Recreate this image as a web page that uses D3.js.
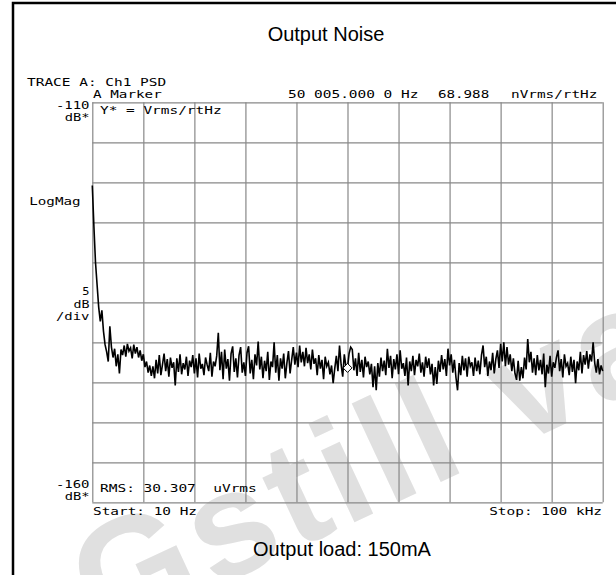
<!DOCTYPE html>
<html>
<head>
<meta charset="utf-8">
<script src="https://cdn.jsdelivr.net/npm/d3@7"></script>
<style>
body { margin: 0; background: #fff; }
svg { display: block; }
</style>
</head>
<body>
<div id="chart"></div>
<script>
// Sweep / display settings
var startHz = 10
var stopHz = 100000
var dbTop = -110
var dbBottom = -160
var dbPerDiv = 5
var xDivs = 10

var markerHz = 50005
var markerDb = -143.2

// Trace A, Ch1 PSD, in dB (Vrms/rtHz), evenly spaced bins from start to stop
var traceDb = [
  -120.4, -125.5, -130.0, -132.8, -135.6, -137.4, -136.0, -138.6, -140.3, -141.2,
  -142.4, -138.0, -140.6, -141.9, -140.8, -143.0, -141.5, -143.9, -140.9, -141.6,
  -140.4, -141.8, -140.2, -141.1, -140.7, -142.0, -140.3, -141.4, -140.6, -141.9,
  -141.0, -142.3, -141.5, -143.1, -142.4, -143.8, -142.9, -144.2, -143.0, -144.5,
  -142.2, -143.9, -141.6, -144.1, -142.8, -141.4, -143.6, -142.1, -144.3, -141.9,
  -143.2, -142.5, -145.4, -142.0, -143.7, -141.5, -144.0, -142.6, -143.4, -141.8,
  -144.2, -142.3, -143.1, -141.6, -143.9, -142.0, -144.4, -141.4, -143.3, -142.7,
  -144.1, -141.9, -142.8, -143.6, -141.3, -144.3, -142.4, -143.0, -141.7, -138.8,
  -143.5, -141.2, -144.6, -140.9, -143.3, -142.1, -144.8, -141.4, -140.5, -143.7,
  -142.0, -144.4, -141.6, -140.6, -143.8, -142.5, -144.2, -141.3, -140.5, -143.9,
  -142.2, -144.6, -141.5, -142.9, -139.9, -143.4, -141.8, -144.5, -142.3, -143.6,
  -141.2, -144.7, -142.4, -143.1, -140.0, -143.8, -141.6, -144.8, -142.0, -143.3,
  -141.4, -144.5, -142.6, -141.1, -143.9, -142.2, -140.6, -142.8, -141.3, -143.1,
  -140.4, -142.5, -141.2, -143.0, -140.7, -142.6, -141.5, -143.4, -140.9, -142.7,
  -142.0, -144.1, -141.6, -143.3, -142.2, -144.6, -141.8, -143.0, -142.5, -144.0,
  -142.9, -145.1, -143.3, -141.7, -143.6, -140.4, -142.8, -144.3, -141.5, -143.0,
  -143.2, -141.4, -140.6, -140.9, -143.5, -142.0, -144.2, -141.3, -143.7, -142.2,
  -144.4, -141.8, -143.1, -142.4, -144.0, -142.7, -145.6, -143.0, -146.0, -142.6,
  -144.3, -141.9, -143.6, -142.3, -144.1, -140.8, -143.2, -141.7, -144.5, -142.1,
  -143.4, -141.5, -144.0, -141.0, -143.3, -142.6, -144.2, -141.9, -145.4, -142.4,
  -143.6, -141.7, -144.1, -142.2, -143.0, -141.4, -143.8, -142.5, -144.3, -141.8,
  -143.2, -142.0, -144.0, -142.7, -145.4, -143.1, -145.2, -142.3, -143.7, -141.6,
  -143.4, -142.1, -144.2, -140.8, -142.9, -141.5, -143.8, -142.2, -144.4, -146.0,
  -142.6, -144.1, -141.7, -143.5, -142.0, -144.3, -141.8, -143.0, -142.5, -144.2,
  -141.9, -143.6, -142.3, -144.0, -141.6, -140.4, -143.1, -141.8, -144.2, -142.4,
  -143.5, -141.3, -143.9, -142.1, -141.0, -143.2, -140.2, -142.4, -140.0, -143.0,
  -140.6, -142.8, -141.5, -143.6, -142.0, -143.9, -144.7, -142.3, -144.8, -143.1,
  -144.5, -141.9, -143.4, -139.6, -142.5, -141.2, -143.8, -142.0, -144.1, -141.6,
  -143.5, -142.2, -144.0, -141.4, -145.6, -142.8, -143.9, -141.7, -144.3, -142.5,
  -143.2, -141.9, -141.0, -143.6, -142.1, -144.4, -141.5, -143.0, -142.6, -144.1,
  -141.8, -143.7, -142.2, -145.1, -142.4, -143.5, -141.2, -143.9, -141.6, -142.8,
  -141.1, -143.3, -141.5, -142.4, -140.0, -142.6, -143.8, -142.1, -144.0, -142.9,
  -143.6
]

// Screen annotations
var traceTitle = 'TRACE A: Ch1 PSD'
var markerLabel = 'A Marker'
var markerFreqText = '50 005.000 0 Hz'
var markerValText = '68.988'
var markerUnitText = 'nVrms/rtHz'
var yUnitText = 'Y* = Vrms/rtHz'
var topRefText = ['-110', 'dB*']
var bottomRefText = ['-160', 'dB*']
var scaleText = ['LogMag']
var perDivText = ['5', 'dB', '/div']
var rmsText = 'RMS: 30.307  uVrms'
var startText = 'Start: 10 Hz'
var stopText = 'Stop: 100 kHz'
var chartTitle = 'Output Noise'
var chartSubtitle = 'Output load: 150mA'
var watermarkText = 'Gstill valid'

// --- layout
var settings = {}
settings.width = 616
settings.height = 575
settings.left = 92.3
settings.right = 602.7
settings.top = 102.3
settings.bottom = 502.3
settings.pitch = 8.8 // instrument font character pitch
settings.mono_size = 11
settings.mono_family = 'DejaVu Sans Mono, monospace'
settings.sans_family = 'Liberation Sans, Arial, sans-serif'
settings.grid_color = '#888888'

var svg = d3.select('#chart').append('svg')
  .attr('width', settings.width)
  .attr('height', settings.height)

// Watermark sits under everything
svg.append('text')
  .attr('transform', 'translate(102,640) rotate(-25)')
  .attr('font-family', settings.sans_family)
  .attr('font-weight', 'bold')
  .attr('font-size', 150)
  .attr('letter-spacing', 6)
  .attr('fill', '#e0e0e0')
  .text(watermarkText)

// Outer frame (only top and left show)
svg.append('rect')
  .attr('x', 13)
  .attr('y', 3)
  .attr('width', 800)
  .attr('height', 800)
  .attr('fill', 'none')
  .attr('stroke', '#000')
  .attr('stroke-width', 2.5)

var x = d3.scaleLinear().domain([startHz, stopHz]).range([settings.left, settings.right])
var y = d3.scaleLinear().domain([dbBottom, dbTop]).range([settings.bottom, settings.top])

var xTicks = d3.range(xDivs + 1).map(function(k){ return startHz + k * (stopHz - startHz) / xDivs })
var yTicks = d3.range(dbBottom, dbTop + 0.001, dbPerDiv)

// Grid through axes
var gx = svg.append('g')
  .attr('transform', 'translate(0,' + settings.bottom + ')')
  .call(d3.axisBottom(x).tickValues(xTicks).tickSize(-(settings.bottom - settings.top)).tickFormat(''))
var gy = svg.append('g')
  .attr('transform', 'translate(' + settings.left + ',0)')
  .call(d3.axisLeft(y).tickValues(yTicks).tickSize(-(settings.right - settings.left)).tickFormat(''))
;[gx, gy].forEach(function(g){
  g.select('.domain').remove()
  g.selectAll('line').attr('stroke', settings.grid_color).attr('stroke-width', 1.2)
})

// Trace
var step = (stopHz - startHz) / (traceDb.length - 1)
var line = d3.line()
  .x(function(d, i){ return x(startHz + i * step) })
  .y(function(d){ return y(d) })
svg.append('path')
  .attr('d', line(traceDb))
  .attr('fill', 'none')
  .attr('stroke', '#000')
  .attr('stroke-width', 1.6)
  .attr('stroke-linejoin', 'miter')

// Marker diamond
var mx = x(markerHz), my = y(markerDb)
svg.append('path')
  .attr('d', 'M' + (mx - 4.5) + ',' + my + 'L' + mx + ',' + (my - 4.5) + 'L' + (mx + 4.5) + ',' + my + 'L' + mx + ',' + (my + 4.5) + 'Z')
  .attr('fill', '#fff')
  .attr('stroke', '#000')
  .attr('stroke-width', 1)

// Instrument text
function mono(px, py, str, anchor) {
  svg.append('text')
    .attr('x', px)
    .attr('y', py)
    .attr('text-anchor', anchor || 'start')
    .attr('font-family', settings.mono_family)
    .attr('font-size', settings.mono_size)
    .attr('textLength', str.length * settings.pitch - 1.6)
    .attr('lengthAdjust', 'spacingAndGlyphs')
    .style('white-space', 'pre')
    .attr('fill', '#000')
    .text(str)
}

mono(27, 86, traceTitle)
mono(93, 98, markerLabel)
mono(288, 98, markerFreqText)
mono(438, 98, markerValText)
mono(511, 98, markerUnitText)
mono(100, 114, yUnitText)

mono(89.5, 109, topRefText[0], 'end')
mono(89.5, 121, topRefText[1], 'end')
mono(80.5, 205, scaleText[0], 'end')
perDivText.forEach(function(t, i){ mono(89.5, 295 + i * 12.5, t, 'end') })
mono(89.5, 488, bottomRefText[0], 'end')
mono(89.5, 500, bottomRefText[1], 'end')

mono(100, 491.5, rmsText)
mono(93, 515, startText)
mono(602, 515, stopText, 'end')

// Titles
svg.append('text')
  .attr('x', 326)
  .attr('y', 41)
  .attr('text-anchor', 'middle')
  .attr('font-family', settings.sans_family)
  .attr('font-size', 20)
  .attr('fill', '#000')
  .text(chartTitle)

svg.append('text')
  .attr('x', 342)
  .attr('y', 556)
  .attr('text-anchor', 'middle')
  .attr('font-family', settings.sans_family)
  .attr('font-size', 20)
  .attr('fill', '#000')
  .text(chartSubtitle)
</script>
</body>
</html>
